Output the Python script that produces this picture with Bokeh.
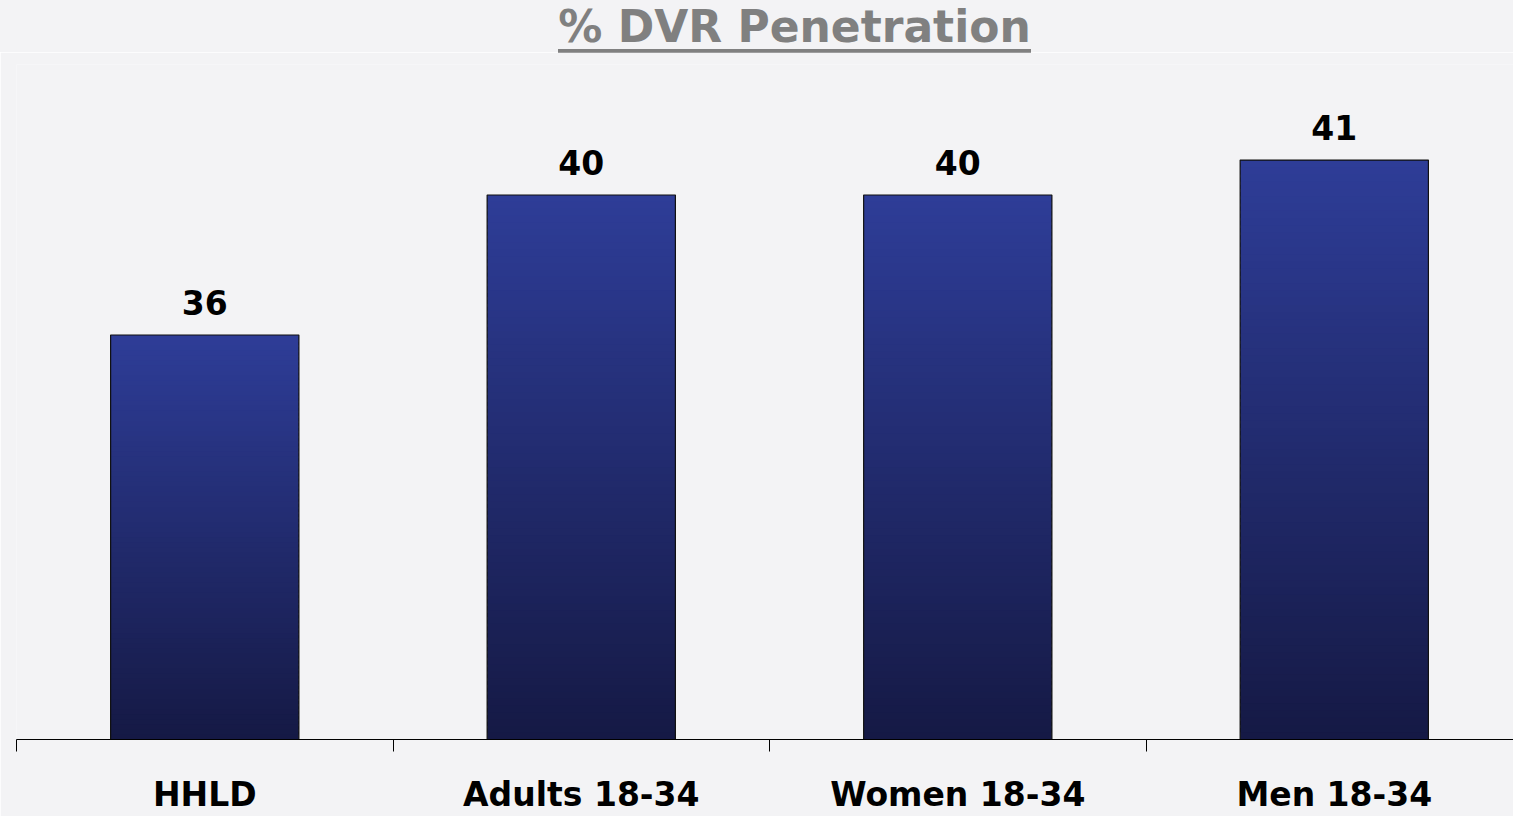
from bokeh.plotting import figure
from bokeh.models import ColumnDataSource, LabelSet, FixedTicker, Range1d, Div
from bokeh.layouts import column
from bokeh.core.properties import value
from bokeh.embed import file_html
from bokeh.resources import INLINE

# ---- data ----
categories = ["HHLD", "Adults 18-34", "Women 18-34", "Men 18-34"]
penetration = [36, 40, 40, 41]
value_labels = ["36", "40", "40", "41"]
title_text = "% DVR Penetration"

FONT = "DejaVu Sans"
BG = "#f3f3f5"
Y0 = 24.44
Y1 = 43.73

positions = list(range(1, len(categories) + 1))

# gradient bands for each bar (styling only: each bar split into bands from base to its value)
N = 80
top_rgb = (0x2e, 0x3d, 0x98)
bot_rgb = (0x15, 0x19, 0x44)
sx, sb, st, sc = [], [], [], []
for xpos, v in zip(positions, penetration):
    step = (v - Y0) / N
    for k in range(N):
        b = Y0 + step * k
        t = min(v, b + step * 1.6)
        f = (k + 0.5) / N
        rgb = tuple(int(round(bot_rgb[i] + (top_rgb[i] - bot_rgb[i]) * f)) for i in range(3))
        sx.append(xpos); sb.append(b); st.append(t); sc.append("#%02x%02x%02x" % rgb)
slices = ColumnDataSource(dict(x=sx, bottom=sb, top=st, color=sc))

src = ColumnDataSource(dict(x=positions, value=penetration, label=value_labels, cat=categories))

p = figure(width=1513, height=764, output_backend="svg", toolbar_location=None,
           x_range=Range1d(0.5, 4.476), y_range=Range1d(Y0, Y1),
           min_border_left=16, min_border_right=0, min_border_top=12, min_border_bottom=0)
p.background_fill_color = BG
p.border_fill_color = BG
p.outline_line_color = None
p.grid.visible = False
p.yaxis.visible = False

p.vbar(x="x", bottom="bottom", top="top", width=0.5, source=slices,
       fill_color="color", line_color=None)
p.vbar(x="x", bottom=Y0, top="value", width=0.5, source=src,
       fill_color=None, line_color="#111111", line_width=1.2)

labels = LabelSet(x="x", y="value", text="label", source=src, y_offset=20,
                  text_align="center", text_baseline="alphabetic",
                  text_font=value(FONT), text_font_style="bold", text_font_size="33px",
                  text_color="#000000")
p.add_layout(labels)

ax = p.xaxis[0]
ax.ticker = FixedTicker(ticks=positions, minor_ticks=[x - 0.5 for x in positions] + [positions[-1] + 0.5])
ax.major_label_overrides = {x: c for x, c in zip(positions, categories)}
ax.major_tick_out = 0
ax.major_tick_in = 0
ax.minor_tick_out = 12
ax.minor_tick_in = 0
ax.minor_tick_line_color = "#000000"
ax.axis_line_color = "#000000"
ax.axis_line_width = 1
ax.major_label_standoff = 23
ax.major_label_text_font = FONT
ax.major_label_text_font_style = "bold"
ax.major_label_text_font_size = "33px"
ax.major_label_text_color = "#000000"

title = Div(text=('<div style="width:1513px;text-align:center;position:relative;left:38px;padding-top:5px;">'
                  '<span style="display:inline-block;font-family:\'DejaVu Sans\';font-weight:bold;'
                  'font-size:44px;line-height:44px;color:#808080;border-bottom:4px solid #808080;">'
                  + title_text + '</span></div>'),
            width=1513, height=52, margin=0, styles={"background-color": BG})

layout = column(title, p, spacing=0)
open("out.html", "w").write(file_html(layout, INLINE))
